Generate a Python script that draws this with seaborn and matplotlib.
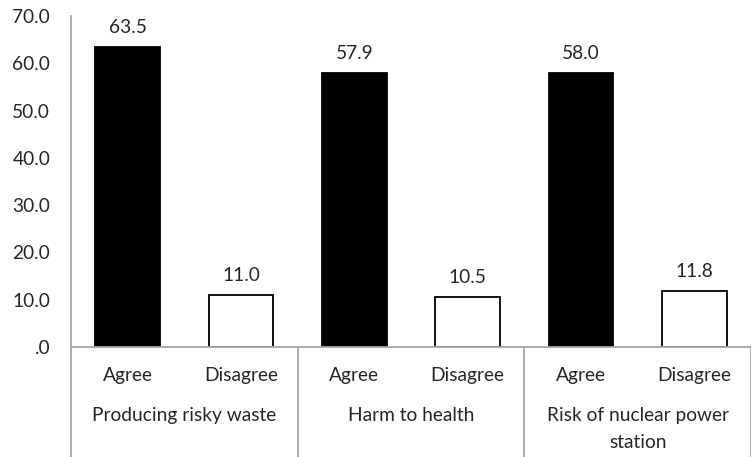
import pandas as pd
import seaborn as sns
import matplotlib.pyplot as plt
import matplotlib.transforms as mtransforms

issues = ['Producing risky waste', 'Harm to health', 'Risk of nuclear power\nstation']
responses = ['Agree', 'Disagree']
agree = [63.5, 57.9, 58.0]
disagree = [11.0, 10.5, 11.8]
yticks = [0, 10, 20, 30, 40, 50, 60, 70]

rows = []
for i, issue in enumerate(issues):
    rows.append({'slot': f'{i}-Agree', 'issue': issue, 'response': 'Agree', 'value': agree[i]})
    rows.append({'slot': f'{i}-Disagree', 'issue': issue, 'response': 'Disagree', 'value': disagree[i]})
df = pd.DataFrame(rows)

sns.set_style('white')
plt.rcParams['font.family'] = ['Lato', 'DejaVu Sans']
fs = 13.8

fig = plt.figure(figsize=(7.51, 4.57), dpi=100)
ax = fig.add_axes([71 / 751, 110 / 457, 680 / 751, 331 / 457])

sns.barplot(data=df, x='slot', y='value', hue='response',
            palette={'Agree': 'black', 'Disagree': 'white'},
            edgecolor='black', linewidth=1.3, width=0.57, dodge=False,
            legend=False, ax=ax)

ax.set_ylim(0, 70)
ax.set_xlim(-0.5, len(df) - 0.5)
ax.set_yticks(yticks)
ax.set_yticklabels(['.0' if v == 0 else f'{v:.1f}' for v in yticks], fontsize=fs)
ax.tick_params(axis='y', length=0, pad=15)
ax.set_xticks([])
ax.set_xlabel('')
ax.set_ylabel('')

grey = '#a6a6a6'
for side in ['top', 'right']:
    ax.spines[side].set_visible(False)
ax.spines['left'].set_color(grey)
ax.spines['bottom'].set_color(grey)
ax.spines['left'].set_linewidth(1.3)
ax.spines['bottom'].set_linewidth(1.3)

# value labels
for i, v in enumerate(df['value']):
    ax.annotate(f'{v:.1f}', xy=(i, v), xytext=(0, 14), textcoords='offset points',
                ha='center', va='center', fontsize=fs)

# multi-level category axis
trans = mtransforms.blended_transform_factory(ax.transData, ax.transAxes)
bottom = -110 / 331
for k in range(len(issues) + 1):
    x = k * 2 - 0.5
    ax.plot([x, x], [0, bottom], color=grey, lw=1.3, transform=trans, clip_on=False)

for i, resp in enumerate(df['response']):
    ax.text(i, -29 / 331, resp, transform=trans, ha='center', va='center', fontsize=fs)

for k, issue in enumerate(issues):
    ax.text(k * 2 + 0.5, -60 / 331, issue, transform=trans, ha='center', va='top',
            fontsize=fs, linespacing=1.7)

fig.savefig('out.png', dpi=100)
